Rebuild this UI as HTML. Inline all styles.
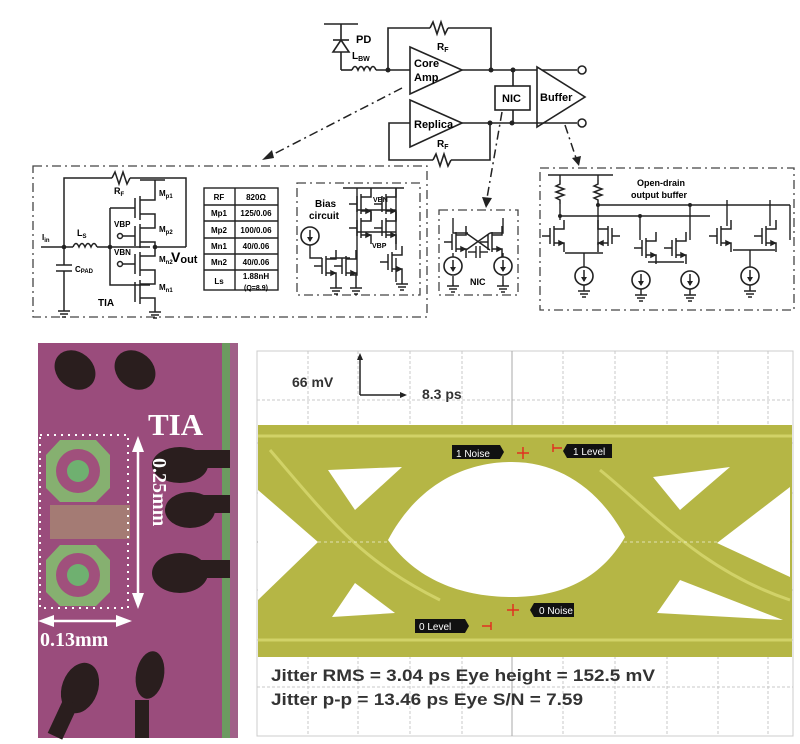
<!DOCTYPE html>
<html><head><meta charset="utf-8"><style>
html,body{margin:0;padding:0;background:#fff}
svg{display:block}
text{font-family:"Liberation Sans",Arial,sans-serif;font-weight:bold}
</style></head><body>
<svg width="800" height="744" viewBox="0 0 800 744" xmlns="http://www.w3.org/2000/svg">
<defs>
<g id="gnd"><line x1="0" y1="0" x2="0" y2="6" stroke="#222" stroke-width="1.5"/><line x1="-6" y1="6" x2="6" y2="6" stroke="#222" stroke-width="1.5"/><line x1="-4" y1="9" x2="4" y2="9" stroke="#222" stroke-width="1.5"/><line x1="-2" y1="12" x2="2" y2="12" stroke="#222" stroke-width="1.5"/></g>
<g id="cs"><circle cx="0" cy="0" r="9" fill="#fff" stroke="#222" stroke-width="1.6"/><line x1="0" y1="-6" x2="0" y2="5" stroke="#222" stroke-width="1.5"/><polygon points="-3,1 3,1 0,6" fill="#222"/></g>
<g id="nm" fill="none" stroke="#222" stroke-width="1.5"><line x1="-8" y1="-8" x2="-8" y2="8"/><line x1="-4" y1="-10" x2="-4" y2="10"/><polyline points="6,-16 6,-7 -4,-7"/><polyline points="-4,7 6,7 6,16"/><line x1="-16" y1="0" x2="-8" y2="0"/><polygon points="1,5 5,7 1,9" fill="#222"/></g>
<g id="res" fill="none" stroke="#222" stroke-width="1.5"><polyline points="0,0 0,4 -4,6 4,9 -4,12 4,15 -4,18 0,20 0,24"/></g>
</defs>

<!-- ===== Top block diagram ===== -->
<g stroke="#222" stroke-width="1.6" fill="none">
<line x1="324" y1="24" x2="358" y2="24"/>
<line x1="341" y1="24" x2="341" y2="70"/>
<polygon points="333,52 349,52 341,40" fill="#fff"/>
<line x1="333" y1="40" x2="349" y2="40"/>
<line x1="341" y1="70" x2="352" y2="70"/>
<path d="M352,70 q3,-7 6,0 q3,-7 6,0 q3,-7 6,0 q3,-7 6,0"/>
<line x1="376" y1="70" x2="410" y2="70"/>
<polyline points="388,70 388,28 430,28"/>
<polyline points="430,28 433,22 437,34 441,22 445,34 448,28"/>
<polyline points="448,28 491,28 491,70"/>
<polygon points="410,47 410,94 462,70" fill="#fff"/>
<line x1="462" y1="70" x2="577" y2="70"/>
<line x1="513" y1="70" x2="513" y2="86"/>
<rect x="495" y="86" width="35" height="24" fill="#fff"/>
<line x1="513" y1="110" x2="513" y2="123"/>
<polygon points="537,67 537,127 585,97" fill="#fff"/>
<polygon points="410,100 410,147 462,123" fill="#fff"/>
<line x1="462" y1="123" x2="577" y2="123"/>
<polyline points="410,123 389,123 389,160 433,160"/>
<polyline points="433,160 436,154 440,166 444,154 448,166 451,160"/>
<polyline points="451,160 490,160 490,123"/>
<circle cx="582" cy="70" r="4" fill="#fff"/>
<circle cx="582" cy="123" r="4" fill="#fff"/>
</g>
<g fill="#222"><circle cx="388" cy="70" r="2.5"/><circle cx="491" cy="70" r="2.5"/><circle cx="513" cy="70" r="2.5"/><circle cx="490" cy="123" r="2.5"/><circle cx="512" cy="123" r="2.5"/></g>
<text x="356" y="43" font-size="11">PD</text>
<text x="352" y="59" font-size="10">L<tspan font-size="7" dy="2">BW</tspan></text>
<text x="437" y="50" font-size="10">R<tspan font-size="7" dy="2">F</tspan></text>
<text x="414" y="67" font-size="11">Core</text>
<text x="414" y="81" font-size="11">Amp</text>
<text x="502" y="102" font-size="11">NIC</text>
<text x="540" y="101" font-size="11">Buffer</text>
<text x="414" y="128" font-size="11">Replica</text>
<text x="437" y="147" font-size="10">R<tspan font-size="7" dy="2">F</tspan></text>
<g stroke="#222" stroke-width="1.5" fill="none" stroke-dasharray="9,4,2,4">
<line x1="402" y1="88" x2="268" y2="157"/>
<line x1="502" y1="112" x2="487" y2="198"/>
<line x1="565" y1="125" x2="576" y2="158"/>
</g>
<polygon points="262,160 272,150 274,158" fill="#222"/>
<polygon points="482,197 492,198 486,208" fill="#222"/>
<polygon points="572,158 581,156 579,166" fill="#222"/>

<g stroke="#444" stroke-width="1.3" fill="none" stroke-dasharray="9,4,2,4">
<rect x="33" y="166" width="394" height="151"/>
<rect x="297" y="183" width="123" height="112"/>
<rect x="439" y="210" width="79" height="85"/>
<rect x="540" y="168" width="254" height="142"/>
</g>
<g stroke="#222" stroke-width="1.5" fill="none">
<line x1="41" y1="247" x2="73" y2="247"/>
<polyline points="64,247 64,178 112,178"/>
<polyline points="112,178 115,172 119,184 123,172 127,184 130,178"/>
<polyline points="130,178 186,178 186,247"/>
<path d="M73,247 q3,-7 6,0 q3,-7 6,0 q3,-7 6,0 q3,-7 6,0"/>
<line x1="97" y1="247" x2="150" y2="247"/>
<line x1="64" y1="247" x2="64" y2="265"/><line x1="56" y1="265" x2="72" y2="265"/><line x1="56" y1="271" x2="72" y2="271"/><line x1="64" y1="271" x2="64" y2="305"/>
<polyline points="110,208 110,285 150,285"/>
<line x1="110" y1="208" x2="135" y2="208"/>
<line x1="140" y1="180" x2="165" y2="180"/>
<line x1="155" y1="180" x2="155" y2="194"/>
<line x1="135" y1="198" x2="135" y2="218"/><line x1="140" y1="196" x2="140" y2="220"/><polyline points="140,200 155,200 155,194"/><polyline points="140,214 155,214 155,224"/>
<line x1="135" y1="226" x2="135" y2="246"/><line x1="140" y1="224" x2="140" y2="248"/><polyline points="140,228 155,228 155,224"/><polyline points="140,242 155,242 155,250"/>
<line x1="122" y1="236" x2="135" y2="236"/><circle cx="120" cy="236" r="2.5" fill="#fff"/>
<line x1="135" y1="254" x2="135" y2="274"/><line x1="140" y1="252" x2="140" y2="276"/><polyline points="140,256 155,256 155,250"/><polyline points="140,270 155,270 155,278"/>
<line x1="122" y1="264" x2="135" y2="264"/><circle cx="120" cy="264" r="2.5" fill="#fff"/>
<line x1="135" y1="282" x2="135" y2="302"/><line x1="140" y1="280" x2="140" y2="304"/><polyline points="140,284 155,284 155,278"/><polyline points="140,298 155,298 155,306"/>
<line x1="155" y1="247" x2="186" y2="247"/>
</g>
<use href="#gnd" x="64" y="305"/><use href="#gnd" x="155" y="306"/>
<g fill="#222"><circle cx="64" cy="247" r="2.3"/><circle cx="110" cy="247" r="2.3"/><circle cx="155" cy="247" r="2.3"/></g>
<text x="42" y="240" font-size="8">I<tspan font-size="6" dy="2">in</tspan></text>
<text x="77" y="236" font-size="9">L<tspan font-size="6" dy="2">S</tspan></text>
<text x="114" y="194" font-size="9">R<tspan font-size="6" dy="2">F</tspan></text>
<text x="75" y="272" font-size="8">C<tspan font-size="6" dy="1">PAD</tspan></text>
<text x="159" y="196" font-size="8">M<tspan font-size="6" dy="2">p1</tspan></text>
<text x="159" y="232" font-size="8">M<tspan font-size="6" dy="2">p2</tspan></text>
<text x="159" y="262" font-size="8">M<tspan font-size="6" dy="2">n2</tspan></text>
<text x="159" y="290" font-size="8">M<tspan font-size="6" dy="2">n1</tspan></text>
<text x="114" y="227" font-size="8">VBP</text>
<text x="114" y="255" font-size="8">VBN</text>
<text x="171" y="262" font-size="14">V<tspan font-size="11" dy="1">out</tspan></text>
<text x="98" y="306" font-size="10">TIA</text>
<g stroke="#222" stroke-width="1.4" fill="none">
<rect x="204" y="188" width="74" height="102"/>
<line x1="235" y1="188" x2="235" y2="290"/>
<line x1="204" y1="205" x2="278" y2="205"/><line x1="204" y1="221" x2="278" y2="221"/><line x1="204" y1="238" x2="278" y2="238"/><line x1="204" y1="254" x2="278" y2="254"/><line x1="204" y1="270" x2="278" y2="270"/>
</g>
<g font-size="8" text-anchor="middle">
<text x="219" y="200">RF</text><text x="256" y="200">820Ω</text>
<text x="219" y="216">Mp1</text><text x="256" y="216">125/0.06</text>
<text x="219" y="233">Mp2</text><text x="256" y="233">100/0.06</text>
<text x="219" y="249">Mn1</text><text x="256" y="249">40/0.06</text>
<text x="219" y="265">Mn2</text><text x="256" y="265">40/0.06</text>
<text x="219" y="284">Ls</text><text x="256" y="279">1.88nH</text><text x="256" y="290" font-size="7">(Q=8.9)</text>
</g>
<text x="315" y="207" font-size="10">Bias</text>
<text x="309" y="219" font-size="10">circuit</text>
<text x="373" y="202" font-size="7">VBN</text>
<text x="372" y="248" font-size="7">VBP</text>
<g stroke="#222" stroke-width="1.4" fill="none">
<line x1="343" y1="188" x2="404" y2="188"/>
<polyline points="357,188 357,275 350,275"/><polyline points="396,188 396,250"/>
<line x1="357" y1="210" x2="396" y2="210"/><line x1="357" y1="232" x2="396" y2="232"/>
<polyline points="310,236 310,258 322,258"/>
<line x1="330" y1="258" x2="350" y2="258"/>
<polyline points="396,258 396,282"/>
</g>
<use href="#cs" x="310" y="236"/>
<use href="#nm" x="330" y="266"/><use href="#nm" x="350" y="266"/><use href="#nm" x="396" y="262"/>
<use href="#nm" x="365" y="204"/><use href="#nm" x="390" y="204"/>
<use href="#nm" x="365" y="228"/><use href="#nm" x="390" y="228"/>
<use href="#gnd" x="336" y="282"/><use href="#gnd" x="356" y="282"/><use href="#gnd" x="402" y="278"/>
<g stroke="#222" stroke-width="1.4" fill="none">
<polyline points="453,218 453,233 468,233"/><polyline points="503,218 503,233 490,233"/>
<line x1="466" y1="233" x2="490" y2="250"/><line x1="490" y1="233" x2="466" y2="250"/>
<polyline points="453,253 453,258"/><polyline points="503,253 503,258"/>
<line x1="468" y1="252" x2="476" y2="252"/><line x1="476" y1="246" x2="476" y2="258"/><line x1="480" y1="246" x2="480" y2="258"/><line x1="480" y1="252" x2="488" y2="252"/>
<line x1="453" y1="276" x2="453" y2="280"/><line x1="503" y1="276" x2="503" y2="280"/>
</g>
<use href="#nm" x="460" y="242"/><use href="#nm" x="496" y="242"/>
<use href="#cs" x="453" y="266"/><use href="#cs" x="503" y="266"/>
<use href="#gnd" x="453" y="280"/><use href="#gnd" x="503" y="280"/>
<text x="470" y="285" font-size="9">NIC</text>
<text x="637" y="186" font-size="9">Open-drain</text>
<text x="631" y="198" font-size="9">output buffer</text>
<g stroke="#222" stroke-width="1.4" fill="none">
<line x1="548" y1="175" x2="613" y2="175"/>
<line x1="560" y1="175" x2="560" y2="180"/><line x1="598" y1="175" x2="598" y2="180"/>
<line x1="560" y1="204" x2="560" y2="216"/><line x1="598" y1="204" x2="598" y2="205"/>
<line x1="598" y1="205" x2="790" y2="205"/>
<line x1="560" y1="216" x2="710" y2="216"/>
<line x1="598" y1="205" x2="598" y2="245"/><line x1="560" y1="216" x2="560" y2="220"/>
<line x1="565" y1="253" x2="603" y2="253"/><line x1="584" y1="253" x2="584" y2="268"/>
<line x1="640" y1="216" x2="640" y2="240"/><line x1="690" y1="205" x2="690" y2="240"/>
<line x1="648" y1="262" x2="684" y2="262"/>
<line x1="727" y1="200" x2="727" y2="226"/><line x1="770" y1="200" x2="770" y2="226"/>
<line x1="733" y1="250" x2="775" y2="250"/><line x1="750" y1="250" x2="750" y2="268"/>
<line x1="790" y1="205" x2="790" y2="240"/>
</g>
<use href="#res" x="560" y="180"/><use href="#res" x="598" y="180"/>
<use href="#nm" x="558" y="236"/><use href="#nm" x="604" y="236" transform="translate(1208,0) scale(-1,1)"/>
<use href="#nm" x="650" y="248"/><use href="#nm" x="680" y="248"/>
<use href="#nm" x="725" y="236"/><use href="#nm" x="770" y="236"/>
<use href="#cs" x="584" y="276"/><use href="#cs" x="641" y="280"/><use href="#cs" x="690" y="280"/><use href="#cs" x="750" y="276"/>
<use href="#gnd" x="584" y="285"/><use href="#gnd" x="641" y="289"/><use href="#gnd" x="690" y="289"/><use href="#gnd" x="750" y="285"/>
<g fill="#222"><circle cx="560" cy="216" r="2"/><circle cx="598" cy="205" r="2"/><circle cx="640" cy="216" r="2"/><circle cx="690" cy="205" r="2"/></g>

<!-- ===== Chip photo ===== -->
<rect x="38" y="343" width="200" height="395" fill="#9a4c7c"/>
<rect x="222" y="343" width="8" height="395" fill="#6c9a60"/>
<rect x="230" y="343" width="8" height="395" fill="#a06088"/>
<g fill="#2a1e1e">
<ellipse cx="75" cy="370" rx="22" ry="18" transform="rotate(40 75 370)"/>
<ellipse cx="135" cy="370" rx="22" ry="18" transform="rotate(40 135 370)"/>
<ellipse cx="180" cy="465" rx="28" ry="18"/><rect x="190" y="450" width="40" height="18"/>
<ellipse cx="190" cy="510" rx="25" ry="18"/><rect x="195" y="495" width="35" height="18"/>
<ellipse cx="180" cy="573" rx="28" ry="20"/><rect x="190" y="560" width="40" height="18"/>
<ellipse cx="80" cy="688" rx="18" ry="26" transform="rotate(20 80 688)"/>
<ellipse cx="150" cy="675" rx="14" ry="24" transform="rotate(10 150 675)"/>
<rect x="55" y="700" width="16" height="38" transform="rotate(25 63 719)"/>
<rect x="135" y="700" width="14" height="38"/>
</g>
<g fill="#86b070"><polygon points="60,440 96,440 110,455 110,488 96,502 60,502 46,488 46,455"/><polygon points="60,545 96,545 110,560 110,592 96,606 60,606 46,592 46,560"/></g>
<g fill="#a0507c"><circle cx="78" cy="471" r="22"/><circle cx="78" cy="575" r="22"/></g>
<g fill="#6fb070"><circle cx="78" cy="471" r="11"/><circle cx="78" cy="575" r="11"/></g>
<rect x="50" y="505" width="80" height="34" fill="#a89070" opacity="0.7"/>
<rect x="40" y="435" width="88" height="173" fill="none" stroke="#fff" stroke-width="2" stroke-dasharray="2,5"/>
<line x1="138" y1="440" x2="138" y2="605" stroke="#fff" stroke-width="2.5"/>
<polygon points="132,452 144,452 138,436" fill="#fff"/><polygon points="132,593 144,593 138,609" fill="#fff"/>
<line x1="42" y1="621" x2="128" y2="621" stroke="#fff" stroke-width="2.5"/>
<polygon points="54,615 54,627 38,621" fill="#fff"/><polygon points="116,615 116,627 132,621" fill="#fff"/>
<text x="148" y="435" font-size="31" fill="#fff" style="font-family:'Liberation Serif',serif">TIA</text>
<text x="0" y="0" font-size="20" fill="#fff" style="font-family:'Liberation Serif',serif" transform="translate(153,458) rotate(90)">0.25mm</text>
<text x="40" y="646" font-size="20" fill="#fff" style="font-family:'Liberation Serif',serif">0.13mm</text>

<!-- ===== Eye diagram ===== -->
<rect x="257" y="351" width="536" height="385" fill="#fff" stroke="#ccc"/>
<g stroke="#c8c8c8" stroke-width="1" stroke-dasharray="3,2">
<line x1="308" y1="351" x2="308" y2="736"/><line x1="358" y1="351" x2="358" y2="736"/><line x1="410" y1="351" x2="410" y2="736"/><line x1="462" y1="351" x2="462" y2="736"/><line x1="563" y1="351" x2="563" y2="736"/><line x1="615" y1="351" x2="615" y2="736"/><line x1="667" y1="351" x2="667" y2="736"/><line x1="718" y1="351" x2="718" y2="736"/><line x1="768" y1="351" x2="768" y2="736"/>
<line x1="257" y1="400" x2="793" y2="400"/><line x1="257" y1="443" x2="793" y2="443"/><line x1="257" y1="493" x2="793" y2="493"/><line x1="257" y1="590" x2="793" y2="590"/><line x1="257" y1="640" x2="793" y2="640"/><line x1="257" y1="687" x2="793" y2="687"/>
</g>
<line x1="512" y1="351" x2="512" y2="736" stroke="#aaa"/><line x1="257" y1="542" x2="793" y2="542" stroke="#aaa"/>
<path d="M258,425 L792,425 L792,657 L258,657 Z" fill="#b5b645"/>
<g fill="#fff">
<path d="M388,540 C420,480 470,462 512,462 C560,462 600,490 625,537 C600,580 560,597 512,597 C470,597 420,585 388,540 Z"/>
<polygon points="258,490 258,600 318,542"/>
<polygon points="328,470 402,467 355,510"/>
<polygon points="355,583 332,617 395,613"/>
<polygon points="653,477 730,467 680,510"/>
<polygon points="717,543 790,487 790,577"/>
<polygon points="680,580 657,613 783,620"/>
</g>
<g stroke="#d8da70" stroke-width="3" fill="none" opacity="0.8">
<line x1="258" y1="436" x2="792" y2="436"/><line x1="258" y1="640" x2="792" y2="640"/>
<path d="M270,450 C330,520 360,560 440,600"/><path d="M600,470 C650,510 700,570 790,600"/>
</g>
<line x1="258" y1="542" x2="793" y2="542" stroke="#fff" stroke-width="1" stroke-dasharray="3,3" opacity="0.6"/>
<g stroke="#222" stroke-width="1.5"><line x1="360" y1="356" x2="360" y2="395"/><line x1="360" y1="395" x2="403" y2="395"/></g>
<polygon points="357,360 363,360 360,353" fill="#222"/><polygon points="400,392 400,398 407,395" fill="#222"/>
<text x="292" y="387" font-size="14" fill="#333">66 mV</text>
<text x="422" y="399" font-size="14" fill="#333">8.3 ps</text>
<polygon points="452,445 500,445 504,452 500,459 452,459" fill="#111"/>
<text x="456" y="457" font-size="10" fill="#fff" style="font-weight:normal">1 Noise</text>
<polygon points="567,444 612,444 612,458 567,458 563,451" fill="#111"/>
<text x="573" y="455" font-size="10" fill="#fff" style="font-weight:normal">1 Level</text>
<polygon points="534,603 574,603 574,617 534,617 530,610" fill="#111"/>
<text x="539" y="614" font-size="10" fill="#fff" style="font-weight:normal">0 Noise</text>
<polygon points="415,619 465,619 469,626 465,633 415,633" fill="#111"/>
<text x="419" y="630" font-size="10" fill="#fff" style="font-weight:normal">0 Level</text>
<g stroke="#e03020" stroke-width="1.5"><line x1="517" y1="453" x2="529" y2="453"/><line x1="523" y1="447" x2="523" y2="459"/><line x1="507" y1="610" x2="519" y2="610"/><line x1="513" y1="604" x2="513" y2="616"/><line x1="553" y1="444" x2="553" y2="452"/><line x1="553" y1="448" x2="562" y2="448"/><line x1="491" y1="622" x2="491" y2="630"/><line x1="482" y1="626" x2="491" y2="626"/></g>
<text x="271" y="681" font-size="17" fill="#333" textLength="384" lengthAdjust="spacingAndGlyphs">Jitter RMS = 3.04 ps  Eye height = 152.5 mV</text>
<text x="271" y="705" font-size="17" fill="#333" textLength="312" lengthAdjust="spacingAndGlyphs">Jitter p-p = 13.46 ps  Eye S/N = 7.59</text>
</svg>
</body></html>
